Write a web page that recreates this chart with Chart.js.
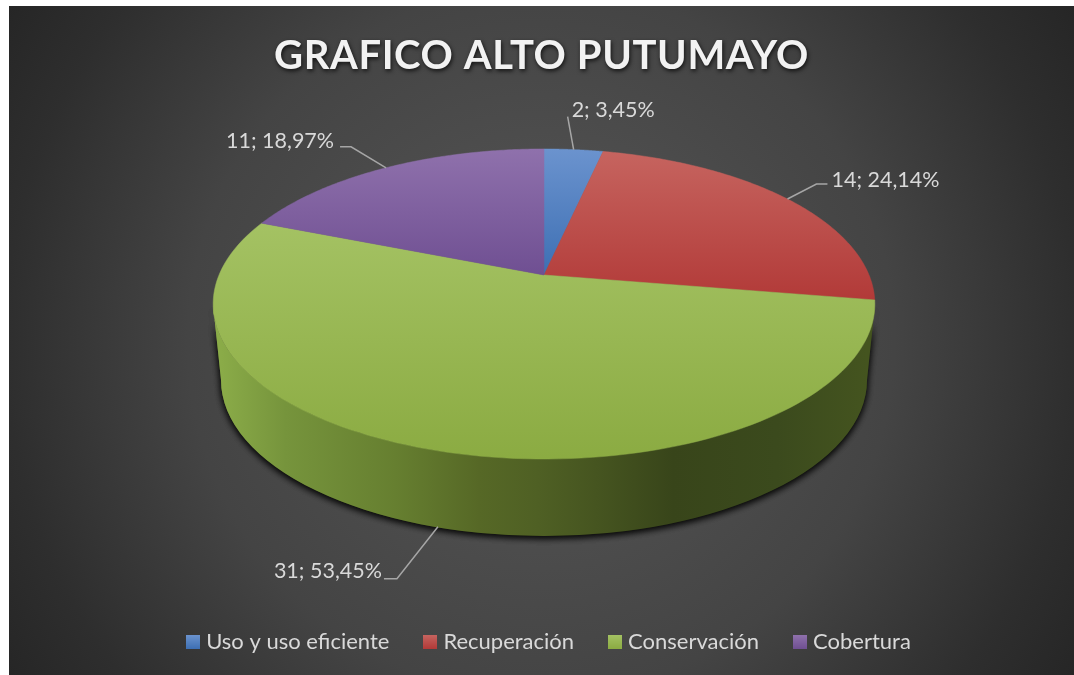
<!DOCTYPE html>
<html>
<head>
<meta charset="utf-8">
<script src="https://cdn.jsdelivr.net/npm/chart.js@4/dist/chart.umd.js"></script>
<style>
html,body{margin:0;padding:0;background:#fff;}
#wrap{position:absolute;left:0;top:0;width:1074px;height:675px;}
</style>
</head>
<body>
<div id="wrap"><canvas id="c" width="1074" height="675"></canvas></div>
<script>
const titleText = 'GRAFICO ALTO PUTUMAYO';
const categories = ['Uso y uso eficiente', 'Recuperación', 'Conservación', 'Cobertura'];
const counts = [2, 14, 31, 11];
const percentLabels = ['3,45%', '24,14%', '53,45%', '18,97%'];
const baseColors = ['#4f81bd', '#c0504d', '#9bbb59', '#8064a2'];
const topLight = ['#6b93ce', '#c6645f', '#a4c263', '#8f71ac'];
const topDark = ['#3d6fb3', '#b23a38', '#8bab42', '#6f4f92'];

/* geometry of the tilted pie */
const GEO = {
  apexX: 544, apexY: 275, k: -0.187, ay: 149.6, bx: 325,
  topCy: 304, topRx: 331, topRy: 155,
  botCy: 380, botRx: 323, botRy: 156
};
/* leader-line bends and label anchors, relative to slice edge point */
const LEADERS = [
  {dy:0, pts:[[-6,-33]], tx:-2, ty:-50, align:'left'},
  {dy:0, pts:[[29,-15],[40,-15]], tx:44, ty:-30, align:'left'},
  {dy:76, pts:[[-41,52],[-54,52]], tx:-56, ty:33, align:'right'},
  {dy:0, pts:[[-35,-21],[-46,-21]], tx:-52, ty:-37, align:'right'}
];
const project = (angle) => {
  const X = Math.cos(angle), Y = Math.sin(angle), d = 1 + GEO.k * Y;
  return { x: GEO.apexX + GEO.bx * X / d, y: GEO.apexY + GEO.ay * Y / d };
};
const wallStops = [
  [0,'#8aab48'],[0.1,'#76943c'],[0.27,'#667f30'],[0.4,'#566826'],[0.49,'#4f6024'],
  [0.58,'#465520'],[0.70,'#38451a'],[0.86,'#3b4a1d'],[1,'#44541f']
];

/* every arc is drawn by the chart's arc element, in the projected view */
const arcProto = Chart.ArcElement.prototype;
arcProto.draw = function (ctx) {
  const idx = this.$context ? this.$context.dataIndex : 0;
  const a0 = this.startAngle, a1 = this.endAngle, steps = 120;
  const pts = [];
  for (let i = 0; i <= steps; i++) pts.push(project(a0 + (a1 - a0) * i / steps));
  ctx.save();
  /* side wall: the part of the rim on the near half */
  const nearS = Math.max(a0, -0.02), nearE = Math.min(a1, Math.PI + 0.02);
  if (nearE > nearS) {
    ctx.beginPath();
    ctx.ellipse(GEO.apexX, GEO.topCy, GEO.topRx, GEO.topRy, 0, 0, Math.PI);
    ctx.lineTo(GEO.apexX - GEO.botRx, GEO.botCy);
    ctx.ellipse(GEO.apexX, GEO.botCy, GEO.botRx, GEO.botRy, 0, Math.PI, 0, true);
    ctx.closePath();
    const g = ctx.createLinearGradient(GEO.apexX - GEO.botRx, 0, GEO.apexX + GEO.botRx, 0);
    wallStops.forEach(s => g.addColorStop(s[0], s[1]));
    ctx.save();
    ctx.shadowColor = 'rgba(0,0,0,0.75)';
    ctx.shadowBlur = 7;
    ctx.shadowOffsetY = 2;
    ctx.fillStyle = g;
    ctx.fill();
    ctx.restore();
  }
  /* top face */
  let minY = Infinity, maxY = -Infinity;
  pts.forEach(p => { minY = Math.min(minY, p.y); maxY = Math.max(maxY, p.y); });
  minY = Math.min(minY, GEO.apexY); maxY = Math.max(maxY, GEO.apexY);
  const tg = ctx.createLinearGradient(0, minY, 0, maxY);
  tg.addColorStop(0, topLight[idx]);
  tg.addColorStop(1, topDark[idx]);
  ctx.beginPath();
  ctx.moveTo(GEO.apexX, GEO.apexY);
  pts.forEach(p => ctx.lineTo(p.x, p.y));
  ctx.closePath();
  ctx.fillStyle = tg;
  ctx.fill();
  ctx.lineWidth = 0.5;
  ctx.strokeStyle = tg;
  ctx.stroke();
  ctx.restore();
};

const panelPlugin = {
  id: 'panel',
  beforeDraw(chart) {
    const ctx = chart.ctx;
    const x0 = 9, y0 = 6, x1 = 1074, y1 = 675;
    const g = ctx.createRadialGradient(541, 341, 30, 541, 341, 640);
    g.addColorStop(0, '#565656');
    g.addColorStop(0.53, '#444444');
    g.addColorStop(0.83, '#2e2e2e');
    g.addColorStop(1, '#252525');
    ctx.save();
    ctx.fillStyle = g;
    ctx.fillRect(x0, y0, x1 - x0, y1 - y0);
    ctx.restore();
    if (chart.titleBlock && !chart.titleBlock.$wrapped) {
      const tb = chart.titleBlock, orig = tb.draw.bind(tb);
      tb.draw = function () {
        ctx.save();
        ctx.letterSpacing = '0.6px';
        ctx.shadowColor = 'rgba(0,0,0,0.75)';
        ctx.shadowBlur = 4;
        ctx.shadowOffsetX = 1;
        ctx.shadowOffsetY = 2;
        orig();
        ctx.restore();
      };
      tb.$wrapped = true;
    }
    if (chart.legend && !chart.legend.$wrapped) {
      const lg = chart.legend, orig = lg.draw.bind(lg);
      lg.draw = function () {
        ctx.save();
        ctx.translate(9.5, 0);
        orig();
        ctx.restore();
      };
      lg.$wrapped = true;
    }
  }
};

const labelsPlugin = {
  id: 'sliceLabels',
  afterDatasetsDraw(chart) {
    const ctx = chart.ctx, arcs = chart.getDatasetMeta(0).data;
    ctx.save();
    ctx.font = '21.5px Lato';
    ctx.textBaseline = 'top';
    arcs.forEach((arc, i) => {
      const mid = (arc.startAngle + arc.endAngle) / 2;
      const p = project(mid), L = LEADERS[i];
      const sx = p.x, sy = p.y + L.dy;
      ctx.strokeStyle = '#a6a6a6';
      ctx.lineWidth = 1.5;
      ctx.beginPath();
      ctx.moveTo(sx, sy);
      L.pts.forEach(q => ctx.lineTo(sx + q[0], sy + q[1]));
      ctx.stroke();
      ctx.fillStyle = '#d9d9d9';
      ctx.textAlign = L.align;
      ctx.fillText(counts[i] + '; ' + percentLabels[i], sx + L.tx, sy + L.ty);
    });
    ctx.restore();
  }
};

function swatch(i) {
  const c = document.createElement('canvas');
  c.width = 14; c.height = 14;
  const x = c.getContext('2d');
  const g = x.createLinearGradient(0, 0, 0, 14);
  g.addColorStop(0, topLight[i]);
  g.addColorStop(1, topDark[i]);
  x.fillStyle = g;
  x.fillRect(0, 0, 14, 14);
  return c;
}

new Chart(document.getElementById('c'), {
  type: 'pie',
  data: {
    labels: categories,
    datasets: [{ data: counts, backgroundColor: baseColors, borderWidth: 0 }]
  },
  plugins: [panelPlugin, labelsPlugin],
  options: {
    responsive: false,
    animation: false,
    layout: { padding: { top: 32, bottom: 12, left: 9, right: 0 } },
    plugins: {
      tooltip: { enabled: false },
      title: {
        display: true,
        text: titleText,
        color: '#f2f2f2',
        font: { family: 'Lato', size: 40, weight: 'bold' },
        padding: { top: 0, bottom: 10 }
      },
      legend: {
        position: 'bottom',
        labels: {
          color: '#d9d9d9',
          font: { family: 'Lato', size: 22 },
          usePointStyle: true,
          pointStyleWidth: 4,
          boxHeight: 14,
          padding: 39,
          generateLabels(chart) {
            return categories.map((t, i) => ({
              text: t, pointStyle: swatch(i), fillStyle: baseColors[i],
              strokeStyle: baseColors[i], lineWidth: 0, hidden: false, index: i,
              fontColor: '#d9d9d9'
            }));
          }
        }
      }
    }
  }
});
</script>
</body>
</html>
